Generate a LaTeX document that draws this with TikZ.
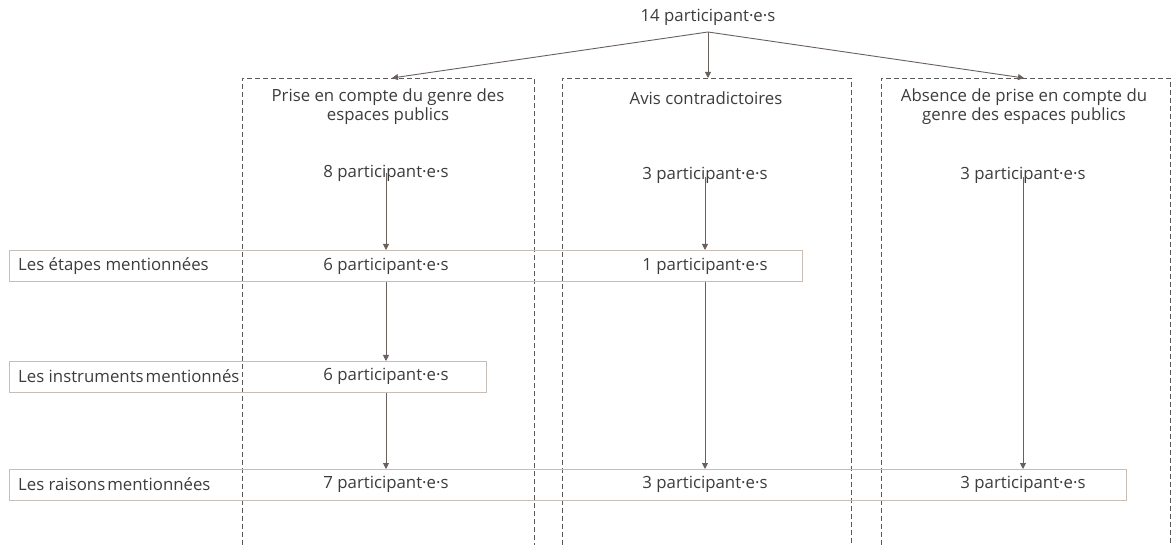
\documentclass[tikz,border=0pt]{standalone}
\usepackage{fontspec}
\setmainfont{Open Sans}
\usetikzlibrary{arrows.meta}
\definecolor{txt}{RGB}{60,60,60}
\definecolor{arr}{RGB}{105,95,92}
\definecolor{rowline}{RGB}{200,190,182}
\definecolor{dashc}{RGB}{90,90,90}
\begin{document}
\begin{tikzpicture}[x=1pt,y=-1pt,
  every node/.style={font=\fontsize{16.8}{19}\selectfont, text=txt, inner sep=0pt},
  lbl/.style={align=center},
  rowbox/.style={draw=rowline, line width=0.9pt, minimum height=31pt, anchor=north west},
  col/.style={draw=dashc, line width=0.8pt, dash pattern=on 5pt off 3pt},
  link/.style={draw=arr, line width=0.9pt, -{Triangle[length=6pt,width=6pt]}}
]
\useasboundingbox (0,0) rectangle (1171,545);

% dashed columns, open at the bottom
\draw[col] (242,545) -- (242,78) -- (534,78) -- (534,545);
\draw[col] (562,545) -- (562,78) -- (851,78) -- (851,545);
\draw[col] (881,545) -- (881,78) -- (1170,78) -- (1170,545);
\coordinate (top1) at (392,78);
\coordinate (top2) at (708,78);
\coordinate (top3) at (1024,78);

% row frames
\node[rowbox, minimum width=793pt] (row1) at (9,250) {};
\node[rowbox, minimum width=477pt] (row2) at (9,361) {};
\node[rowbox, minimum width=1117pt] (row3) at (9,469) {};

% row labels
\node[anchor=west] (l1) at (18,266.5) {Les étapes mentionnées};
\node[anchor=west] (l2) at (18,376.5) {Les instruments\hspace{0.12em}mentionnés};
\node[anchor=west] (l3) at (18,484.5) {Les raisons\hspace{0.12em}mentionnées};

% root
\node (root) at (708,17) {14 participant·e·s};

% column headings
\node[lbl] (h1) at (388,107) {Prise en compte du genre des\\espaces publics};
\node[lbl] (h2) at (706,98) {Avis contradictoires};
\node[lbl] (h3) at (1024,107) {Absence de prise en compte du\\genre des espaces publics};

% counts
\node (a0) at (386,173) {8 participant·e·s};
\node (b0) at (705,175) {3 participant·e·s};
\node (c0) at (1023,175) {3 participant·e·s};
\node (a1) at (386,266.5) {6 participant·e·s};
\node (b1) at (705,266.5) {1 participant·e·s};
\node (a2) at (386,376.5) {6 participant·e·s};
\node (a3) at (386,484.5) {7 participant·e·s};
\node (b3) at (705,484.5) {3 participant·e·s};
\node (c3) at (1023,484.5) {3 participant·e·s};

% connectors
\coordinate (rootb) at (708,32);
\draw[link] (rootb) -- (top1);
\draw[link] (rootb) -- (top2);
\draw[link] (rootb) -- (top3);

\draw[link] ([yshift=8pt]a0.south) -- (a0 |- row1.north);
\draw[link] (a0 |- row1.south) -- (a0 |- row2.north);
\draw[link] (a0 |- row2.south) -- (a0 |- row3.north);
\draw[link] ([yshift=6pt]b0.south) -- (b0 |- row1.north);
\draw[link] (b0 |- row1.south) -- (b0 |- row3.north);
\draw[link] ([yshift=6pt]c0.south) -- (c0 |- row3.north);
\end{tikzpicture}
\end{document}
